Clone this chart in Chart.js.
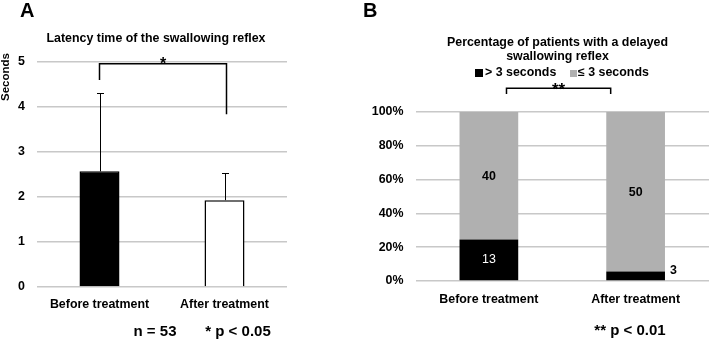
<!DOCTYPE html>
<html>
<head>
<meta charset="utf-8">
<script src="https://cdn.jsdelivr.net/npm/chart.js@4.4.0/dist/chart.umd.min.js"></script>
<style>
  html, body { margin: 0; padding: 0; background: #fff; }
  #wrap { position: relative; width: 709px; height: 339px; overflow: hidden; }
  canvas { position: absolute; top: 0; }
  #chartA { left: 0; }
  #chartB { left: 355px; }
</style>
</head>
<body>
<div id="wrap">
  <canvas id="chartA" width="300" height="339"></canvas>
  <canvas id="chartB" width="354" height="339"></canvas>
</div>
<script>
const categories = ["Before treatment", "After treatment"];

// panel A: latency (seconds), mean and SD
const latencyMeans = [2.57, 1.93];
const latencySD = [1.74, 0.6];
const secondsTicks = [0, 1, 2, 3, 4, 5];

// panel B: patient counts
const over3Counts = [13, 3];
const under3Counts = [40, 50];
const percentTicks = [0, 20, 40, 60, 80, 100];

const FONT = "'Liberation Sans', Arial, sans-serif";
const TXT = "bold 12.4px " + FONT;
const GRID = "#c8c8c8";
const GREY = "#b0b0b0";

Chart.defaults.font.family = FONT;
Chart.defaults.font.size = 12.4;
Chart.defaults.font.weight = "bold";
Chart.defaults.color = "#000";

const totals = over3Counts.map((v, i) => v + under3Counts[i]);
const over3Pct = over3Counts.map((v, i) => (v / totals[i]) * 100);
const under3Pct = under3Counts.map((v, i) => (v / totals[i]) * 100);

const panelA = {
  id: "panelA",
  afterDraw: (chart) => {
    const { ctx } = chart;
    const { x, y } = chart.scales;
    ctx.save();
    ctx.fillStyle = "#000";
    ctx.strokeStyle = "#000";

    // title
    ctx.font = TXT;
    ctx.textAlign = "center";
    ctx.textBaseline = "middle";
    ctx.fillText("Latency time of the swallowing reflex", 156, 39);

    // error bars
    ctx.lineWidth = 1;
    chart.getDatasetMeta(0).data.forEach((bar, i) => {
      const top = y.getPixelForValue(latencyMeans[i] + latencySD[i]);
      const cx = Math.round(bar.x) + 0.5;
      ctx.beginPath();
      ctx.moveTo(cx, bar.y);
      ctx.lineTo(cx, top);
      ctx.moveTo(cx - 3.5, Math.round(top) + 0.5);
      ctx.lineTo(cx + 3.5, Math.round(top) + 0.5);
      ctx.stroke();
    });

    // significance bracket
    const x0 = x.getPixelForValue(0);
    const x1 = x.getPixelForValue(1) + 2;
    ctx.lineWidth = 1.5;
    ctx.beginPath();
    ctx.moveTo(x0, y.getPixelForValue(4.6));
    ctx.lineTo(x0, y.getPixelForValue(4.96));
    ctx.lineTo(x1, y.getPixelForValue(4.96));
    ctx.lineTo(x1, y.getPixelForValue(3.84));
    ctx.stroke();
    ctx.font = "bold 16px " + FONT;
    ctx.textBaseline = "alphabetic";
    ctx.fillText("*", (x0 + x1) / 2, 69);

    // panel letter
    ctx.font = "bold 20px " + FONT;
    ctx.textAlign = "left";
    ctx.fillText("A", 20, 17);

    // axis title
    ctx.save();
    ctx.translate(6, 77);
    ctx.rotate(-Math.PI / 2);
    ctx.font = "bold 11.5px " + FONT;
    ctx.textAlign = "center";
    ctx.textBaseline = "middle";
    ctx.fillText("Seconds", 0, 0);
    ctx.restore();

    // footnotes
    ctx.font = "bold 15px " + FONT;
    ctx.textAlign = "center";
    ctx.textBaseline = "middle";
    ctx.fillText("n = 53", 155, 332);
    ctx.fillText("* p < 0.05", 238, 332);
    ctx.restore();
  },
};

const panelB = {
  id: "panelB",
  afterDraw: (chart) => {
    const { ctx } = chart;
    const { x, y } = chart.scales;
    ctx.save();
    ctx.fillStyle = "#000";
    ctx.textAlign = "center";
    ctx.textBaseline = "middle";
    ctx.font = TXT;

    // title
    ctx.fillText("Percentage of patients with a delayed", 202.5, 43);
    ctx.fillText("swallowing reflex", 202.5, 57);

    // value labels
    chart.getDatasetMeta(0).data.forEach((bar, i) => {
      const mid = (bar.y + bar.base) / 2;
      if (bar.base - bar.y > 20) {
        ctx.fillStyle = "#fff";
        ctx.font = "12.4px " + FONT;
        ctx.fillText(String(over3Counts[i]), bar.x, mid);
        ctx.font = TXT;
      } else {
        ctx.fillStyle = "#000";
        ctx.textAlign = "left";
        ctx.fillText(String(over3Counts[i]), bar.x + bar.width / 2 + 5, mid - 5);
        ctx.textAlign = "center";
      }
    });
    ctx.fillStyle = "#000";
    chart.getDatasetMeta(1).data.forEach((bar, i) => {
      ctx.fillText(String(under3Counts[i]), bar.x, (bar.y + bar.base) / 2 + 1);
    });

    // legend
    const ds = chart.data.datasets;
    ctx.textAlign = "left";
    ctx.fillStyle = ds[0].backgroundColor;
    ctx.fillRect(120, 69, 8, 8);
    ctx.fillStyle = "#000";
    ctx.fillText(ds[0].label, 130, 72.5);
    ctx.fillStyle = ds[1].backgroundColor;
    ctx.fillRect(215, 70, 7, 7);
    ctx.fillStyle = "#000";
    ctx.fillText(ds[1].label, 223, 72.5);

    // significance bracket
    const x0 = x.getPixelForValue(0.12);
    const x1 = x.getPixelForValue(0.83);
    const yt = y.getPixelForValue(114);
    const yb = y.getPixelForValue(110.6);
    ctx.strokeStyle = "#000";
    ctx.lineWidth = 1.5;
    ctx.beginPath();
    ctx.moveTo(x0, yb);
    ctx.lineTo(x0, yt);
    ctx.lineTo(x1, yt);
    ctx.lineTo(x1, yb);
    ctx.stroke();
    ctx.font = "bold 17px " + FONT;
    ctx.textAlign = "center";
    ctx.textBaseline = "alphabetic";
    ctx.fillText("**", (x0 + x1) / 2, 95);

    // panel letter
    ctx.font = "bold 20px " + FONT;
    ctx.textAlign = "left";
    ctx.fillText("B", 8, 17);

    // footnote
    ctx.font = "bold 15px " + FONT;
    ctx.textAlign = "center";
    ctx.textBaseline = "middle";
    ctx.fillText("** p < 0.01", 275, 331);
    ctx.restore();
  },
};

new Chart(document.getElementById("chartA"), {
  type: "bar",
  data: {
    labels: categories,
    datasets: [
      {
        data: latencyMeans,
        backgroundColor: ["#000", "#fff"],
        borderColor: "#000",
        borderWidth: 1.5,
        barPercentage: 0.32,
        categoryPercentage: 1,
      },
    ],
  },
  options: {
    responsive: false,
    animation: false,
    layout: { padding: { left: 0, right: 13, top: 62, bottom: 0 } },
    plugins: {
      legend: { display: false },
      tooltip: { enabled: false },
      title: { display: false },
    },
    scales: {
      x: {
        grid: { display: false },
        border: { display: false },
        ticks: { color: "#000", padding: 2 },
        afterFit: (s) => { s.height = 52; },
      },
      y: {
        min: secondsTicks[0],
        max: secondsTicks[secondsTicks.length - 1],
        ticks: { stepSize: secondsTicks[1] - secondsTicks[0], color: "#000", padding: 12 },
        grid: { color: GRID, lineWidth: 1.5, drawTicks: false },
        border: { display: false },
        afterFit: (s) => { s.width = 37; },
      },
    },
  },
  plugins: [panelA],
});

new Chart(document.getElementById("chartB"), {
  type: "bar",
  data: {
    labels: categories,
    datasets: [
      {
        label: "> 3 seconds",
        data: over3Pct,
        backgroundColor: "#000",
        barPercentage: 0.4,
        categoryPercentage: 1,
      },
      {
        label: "≤ 3 seconds",
        data: under3Pct,
        backgroundColor: GREY,
        barPercentage: 0.4,
        categoryPercentage: 1,
      },
    ],
  },
  options: {
    responsive: false,
    animation: false,
    layout: { padding: { left: 0, right: 0, top: 112, bottom: 0 } },
    plugins: {
      legend: { display: false },
      tooltip: { enabled: false },
      title: { display: false },
    },
    scales: {
      x: {
        stacked: true,
        grid: { display: false },
        border: { display: false },
        ticks: { color: "#000", padding: 3 },
        afterFit: (s) => { s.height = 58; },
      },
      y: {
        stacked: true,
        min: percentTicks[0],
        max: percentTicks[percentTicks.length - 1],
        ticks: {
          stepSize: percentTicks[1] - percentTicks[0],
          color: "#000",
          padding: 12,
          callback: (v) => v + "%",
        },
        grid: { color: GRID, lineWidth: 1.5, drawTicks: false },
        border: { display: false },
        afterFit: (s) => { s.width = 60.5; },
      },
    },
  },
  plugins: [panelB],
});
</script>
</body>
</html>
